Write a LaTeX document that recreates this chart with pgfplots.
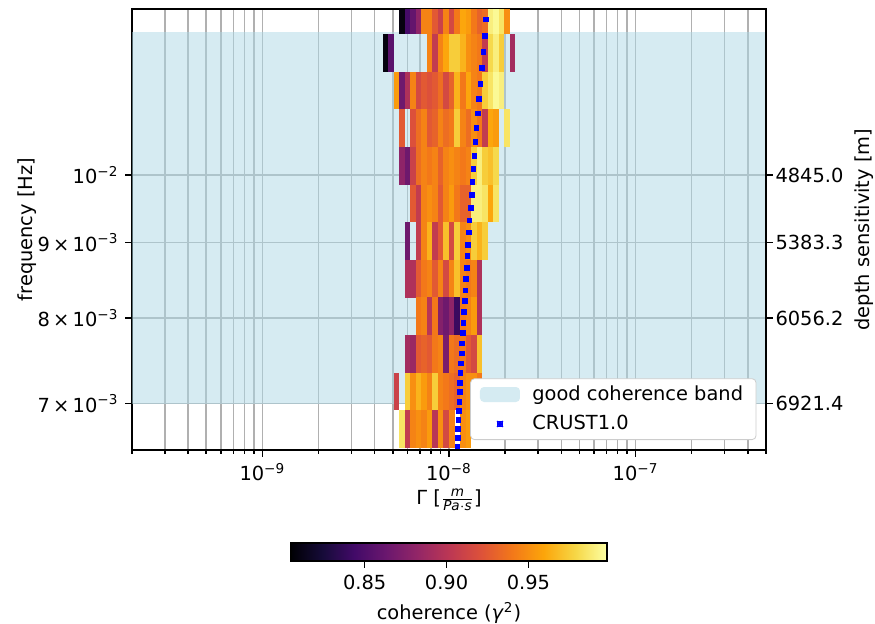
\documentclass[border=0pt]{standalone}
\usepackage{amsmath}
\usepackage{fontspec}
\setmainfont{DejaVu Sans}
\usepackage{pgfplots}
\pgfplotsset{compat=1.18}
\definecolor{cohblue}{RGB}{173,216,230}
\pgfdeclareplotmark{cell}{\pgfpathrectangle{\pgfqpoint{-1.39pt}{-9.43pt}}{\pgfqpoint{2.78pt}{18.86pt}}\pgfusepathqfill}
\pgfplotsset{
  colormap={inferno}{rgb255=(0,0,4) rgb255=(22,11,57) rgb255=(66,10,104) rgb255=(106,23,110) rgb255=(147,38,103) rgb255=(188,55,84) rgb255=(221,81,58) rgb255=(243,120,25) rgb255=(252,165,10) rgb255=(246,215,70) rgb255=(252,255,164)}
}
\pgfplotstableread{
x y c
5.6145e-9 1.28333e-2 0.809
6.0094e-9 1.28333e-2 0.845
6.4320e-9 1.28333e-2 0.860
6.8845e-9 1.28333e-2 0.880
7.3687e-9 1.28333e-2 0.945
7.8870e-9 1.28333e-2 0.945
8.4417e-9 1.28333e-2 0.925
9.0355e-9 1.28333e-2 0.910
9.6710e-9 1.28333e-2 0.945
1.0351e-8 1.28333e-2 0.915
1.1079e-8 1.28333e-2 0.940
1.1858e-8 1.28333e-2 0.960
1.2693e-8 1.28333e-2 0.955
1.3585e-8 1.28333e-2 0.940
1.4541e-8 1.28333e-2 0.930
1.5564e-8 1.28333e-2 0.935
1.6658e-8 1.28333e-2 0.990
1.7830e-8 1.28333e-2 0.995
1.9084e-8 1.28333e-2 0.985
2.0426e-8 1.28333e-2 0.950
4.5788e-9 1.21012e-2 0.809
4.9009e-9 1.21012e-2 0.855
7.8870e-9 1.21012e-2 0.945
8.4417e-9 1.21012e-2 0.905
9.0355e-9 1.21012e-2 0.945
9.6710e-9 1.21012e-2 0.960
1.0351e-8 1.21012e-2 0.975
1.1079e-8 1.21012e-2 0.975
1.1858e-8 1.21012e-2 0.965
1.2693e-8 1.21012e-2 0.950
1.3585e-8 1.21012e-2 0.945
1.4541e-8 1.21012e-2 0.940
1.5564e-8 1.21012e-2 0.905
1.6658e-8 1.21012e-2 0.980
1.7830e-8 1.21012e-2 0.990
1.9084e-8 1.21012e-2 0.975
2.1863e-8 1.21012e-2 0.890
5.2456e-9 1.14106e-2 0.955
5.6145e-9 1.14106e-2 0.865
6.0094e-9 1.14106e-2 0.895
6.4320e-9 1.14106e-2 0.945
6.8845e-9 1.14106e-2 0.915
7.3687e-9 1.14106e-2 0.925
7.8870e-9 1.14106e-2 0.920
8.4417e-9 1.14106e-2 0.925
9.0355e-9 1.14106e-2 0.935
9.6710e-9 1.14106e-2 0.915
1.0351e-8 1.14106e-2 0.930
1.1079e-8 1.14106e-2 0.965
1.1858e-8 1.14106e-2 0.940
1.2693e-8 1.14106e-2 0.960
1.3585e-8 1.14106e-2 0.945
1.4541e-8 1.14106e-2 0.940
1.5564e-8 1.14106e-2 0.975
1.6658e-8 1.14106e-2 0.985
1.7830e-8 1.14106e-2 0.995
1.9084e-8 1.14106e-2 0.990
5.6145e-9 1.07597e-2 0.925
6.4320e-9 1.07597e-2 0.920
6.8845e-9 1.07597e-2 0.935
7.3687e-9 1.07597e-2 0.945
7.8870e-9 1.07597e-2 0.925
8.4417e-9 1.07597e-2 0.930
9.0355e-9 1.07597e-2 0.945
9.6710e-9 1.07597e-2 0.935
1.0351e-8 1.07597e-2 0.940
1.1079e-8 1.07597e-2 0.975
1.1858e-8 1.07597e-2 0.945
1.2693e-8 1.07597e-2 0.935
1.3585e-8 1.07597e-2 0.950
1.4541e-8 1.07597e-2 0.940
1.5564e-8 1.07597e-2 0.905
1.6658e-8 1.07597e-2 0.960
1.7830e-8 1.07597e-2 0.955
2.0426e-8 1.07597e-2 0.985
5.6145e-9 1.01457e-2 0.880
6.0094e-9 1.01457e-2 0.865
6.4320e-9 1.01457e-2 0.910
6.8845e-9 1.01457e-2 0.935
7.3687e-9 1.01457e-2 0.945
7.8870e-9 1.01457e-2 0.940
8.4417e-9 1.01457e-2 0.945
9.0355e-9 1.01457e-2 0.930
9.6710e-9 1.01457e-2 0.945
1.0351e-8 1.01457e-2 0.950
1.1079e-8 1.01457e-2 0.945
1.1858e-8 1.01457e-2 0.940
1.2693e-8 1.01457e-2 0.945
1.3585e-8 1.01457e-2 0.975
1.4541e-8 1.01457e-2 0.990
1.5564e-8 1.01457e-2 0.975
1.6658e-8 1.01457e-2 0.970
1.7830e-8 1.01457e-2 0.980
6.4320e-9 9.5668e-3 0.925
6.8845e-9 9.5668e-3 0.905
7.3687e-9 9.5668e-3 0.945
7.8870e-9 9.5668e-3 0.950
8.4417e-9 9.5668e-3 0.945
9.0355e-9 9.5668e-3 0.925
9.6710e-9 9.5668e-3 0.945
1.0351e-8 9.5668e-3 0.955
1.1079e-8 9.5668e-3 0.940
1.1858e-8 9.5668e-3 0.930
1.2693e-8 9.5668e-3 0.930
1.3585e-8 9.5668e-3 0.990
1.4541e-8 9.5668e-3 0.990
1.5564e-8 9.5668e-3 0.985
1.6658e-8 9.5668e-3 0.960
1.7830e-8 9.5668e-3 0.985
6.0094e-9 9.0209e-3 0.865
6.8845e-9 9.0209e-3 0.905
7.3687e-9 9.0209e-3 0.945
7.8870e-9 9.0209e-3 0.965
8.4417e-9 9.0209e-3 0.905
9.0355e-9 9.0209e-3 0.925
9.6710e-9 9.0209e-3 0.970
1.0351e-8 9.0209e-3 0.915
1.1079e-8 9.0209e-3 0.975
1.1858e-8 9.0209e-3 0.945
1.2693e-8 9.0209e-3 0.950
1.3585e-8 9.0209e-3 0.975
1.4541e-8 9.0209e-3 0.965
1.5564e-8 9.0209e-3 0.975
6.0094e-9 8.5063e-3 0.895
6.4320e-9 8.5063e-3 0.895
6.8845e-9 8.5063e-3 0.925
7.3687e-9 8.5063e-3 0.940
7.8870e-9 8.5063e-3 0.945
8.4417e-9 8.5063e-3 0.925
9.0355e-9 8.5063e-3 0.945
9.6710e-9 8.5063e-3 0.915
1.0351e-8 8.5063e-3 0.945
1.1079e-8 8.5063e-3 0.970
1.1858e-8 8.5063e-3 0.945
1.2693e-8 8.5063e-3 0.940
1.3585e-8 8.5063e-3 0.945
1.4541e-8 8.5063e-3 0.895
6.8845e-9 8.0208e-3 0.940
7.3687e-9 8.0208e-3 0.945
7.8870e-9 8.0208e-3 0.900
8.4417e-9 8.0208e-3 0.940
9.0355e-9 8.0208e-3 0.875
9.6710e-9 8.0208e-3 0.865
1.0351e-8 8.0208e-3 0.880
1.1079e-8 8.0208e-3 0.840
1.1858e-8 8.0208e-3 0.940
1.2693e-8 8.0208e-3 0.945
1.3585e-8 8.0208e-3 0.955
1.4541e-8 8.0208e-3 0.895
6.0094e-9 7.5633e-3 0.890
6.4320e-9 7.5633e-3 0.885
6.8845e-9 7.5633e-3 0.925
7.3687e-9 7.5633e-3 0.930
7.8870e-9 7.5633e-3 0.925
8.4417e-9 7.5633e-3 0.940
9.0355e-9 7.5633e-3 0.945
9.6710e-9 7.5633e-3 0.870
1.0351e-8 7.5633e-3 0.940
1.1079e-8 7.5633e-3 0.935
1.1858e-8 7.5633e-3 0.940
1.2693e-8 7.5633e-3 0.925
1.3585e-8 7.5633e-3 0.915
1.4541e-8 7.5633e-3 0.970
5.2456e-9 7.1317e-3 0.910
6.0094e-9 7.1317e-3 0.975
6.4320e-9 7.1317e-3 0.950
6.8845e-9 7.1317e-3 0.965
7.3687e-9 7.1317e-3 0.955
7.8870e-9 7.1317e-3 0.945
8.4417e-9 7.1317e-3 0.975
9.0355e-9 7.1317e-3 0.945
9.6710e-9 7.1317e-3 0.940
1.0351e-8 7.1317e-3 0.935
1.1079e-8 7.1317e-3 0.930
1.1858e-8 7.1317e-3 0.945
1.2693e-8 7.1317e-3 0.950
1.3585e-8 7.1317e-3 0.950
1.4541e-8 7.1317e-3 0.940
5.6145e-9 6.7248e-3 0.985
6.0094e-9 6.7248e-3 0.905
6.4320e-9 6.7248e-3 0.945
6.8845e-9 6.7248e-3 0.950
7.3687e-9 6.7248e-3 0.945
7.8870e-9 6.7248e-3 0.955
8.4417e-9 6.7248e-3 0.900
9.0355e-9 6.7248e-3 0.950
9.6710e-9 6.7248e-3 0.915
1.0351e-8 6.7248e-3 0.945
1.1858e-8 6.7248e-3 0.950
1.2693e-8 6.7248e-3 0.955
}\heatmap
\pgfplotstableread{
x f
1.606e-8 0.013095
1.581e-8 0.012750
1.554e-8 0.012423
1.529e-8 0.012113
1.497e-8 0.011817
1.474e-8 0.011536
1.450e-8 0.011267
1.426e-8 0.011011
1.403e-8 0.010767
1.386e-8 0.010533
1.369e-8 0.010309
1.352e-8 0.010094
1.336e-8 0.009888
1.324e-8 0.009690
1.308e-8 0.009500
1.287e-8 0.009317
1.276e-8 0.009142
1.267e-8 0.008972
1.256e-8 0.008809
1.245e-8 0.008652
1.236e-8 0.008500
1.225e-8 0.008353
1.215e-8 0.008212
1.206e-8 0.008075
1.195e-8 0.007943
1.185e-8 0.007815
1.176e-8 0.007690
1.171e-8 0.007570
1.162e-8 0.007454
1.152e-8 0.007341
1.148e-8 0.007231
1.142e-8 0.007125
1.138e-8 0.007022
1.134e-8 0.006921
1.124e-8 0.006824
1.120e-8 0.006729
1.115e-8 0.006637
1.110e-8 0.006547
}\crust
\begin{document}
\fontsize{9.7pt}{11.6pt}\selectfont
\begin{tikzpicture}
\path[use as bounding box] (-66pt,-86.5pt) rectangle (371.5pt,225pt);
\begin{axis}[
  at={(0,0)}, anchor=south west,
  scale only axis, width=317pt, height=220.5pt,
  xmode=log, ymode=log,
  xmin=2e-10, xmax=5e-7, ymin=6.5096e-3, ymax=1.29581e-2,
  xtick={1e-9,1e-8,1e-7},
  xticklabels={10\textsuperscript{−9},10\textsuperscript{−8},10\textsuperscript{−7}},
  minor xtick={2e-10,3e-10,4e-10,5e-10,6e-10,7e-10,8e-10,9e-10,2e-9,3e-9,4e-9,5e-9,6e-9,7e-9,8e-9,9e-9,2e-8,3e-8,4e-8,5e-8,6e-8,7e-8,8e-8,9e-8,2e-7,3e-7,4e-7,5e-7},
  ytick={0.007,0.008,0.009,0.01},
  yticklabels={7\,×\,10\textsuperscript{−3},8\,×\,10\textsuperscript{−3},9\,×\,10\textsuperscript{−3},10\textsuperscript{−2}},
  xtick pos=left, ytick pos=left,
  tick align=outside,
  major tick length=3.35pt, minor tick length=1.9pt,
  every tick/.style={black, line width=0.75pt},
  axis line style={line width=0.75pt},
  grid=both,
  major grid style={line width=0.75pt, black!31},
  minor grid style={line width=0.75pt, black!31},
  xlabel={Γ [$\frac{\text{\itshape m}}{\text{\itshape Pa}\cdot\text{\itshape s}}$]},
  xlabel shift=-3pt,
  ylabel={frequency [Hz]},
  ylabel shift=-6pt,
  clip marker paths=true,
  colormap name=inferno,
  point meta min=0.805, point meta max=0.998,
  colorbar horizontal,
  colorbar style={
    at={(parent axis.south)}, anchor=north, yshift=-38pt,
    scale only axis, width=157.9pt, height=9pt,
    xtick={0.85,0.9,0.95}, xticklabels={0.85,0.90,0.95},
    xlabel={coherence (\textit{γ}\textsuperscript{2})},
    tick align=outside, major tick length=3.35pt,
    xtick pos=left,
    every tick/.style={black, line width=0.75pt},
    axis line style={line width=0.75pt},
  },
  legend cell align=left,
  legend style={at={(0.985,0.0227)}, anchor=south east, draw=black!20,
    rounded corners=2pt, fill=white, inner xsep=4.5pt, inner ysep=1.5pt,
    row sep=2pt, /tikz/every odd column/.append style={column sep=4pt}},
]
\addplot[draw=none, fill=cohblue, fill opacity=0.5,
  legend image code/.code={\fill[cohblue, fill opacity=0.5] (0pt,-3.75pt) rectangle (20pt,3.75pt);}]
  coordinates {(2e-10,0.007) (5e-7,0.007) (5e-7,0.0125) (2e-10,0.0125)} -- cycle;
\addlegendentry{good coherence band}
\addplot[forget plot, scatter, only marks, mark=cell, point meta=explicit]
  table[x=x, y=y, meta=c] {\heatmap};
\addplot[only marks, mark=square*, mark size=1.2pt, color=blue,
  legend image code/.code={\path (0pt,0pt) (20pt,0pt); \fill[blue] (8.8pt,-1.2pt) rectangle (11.2pt,1.2pt);}]
  table[x=x, y=f] {\crust};
\addlegendentry{CRUST1.0}
\end{axis}
\begin{axis}[
  at={(0,0)}, anchor=south west,
  scale only axis, width=317pt, height=220.5pt,
  ymode=log, ymin=6.5096e-3, ymax=1.29581e-2, xmin=0, xmax=1,
  hide x axis, axis y line*=right,
  ytick={0.007,0.008,0.009,0.01},
  yticklabels={6921.4,6056.2,5383.3,4845.0},
  yticklabel style={xshift=-2pt},
  tick align=outside, major tick length=3.35pt,
  every tick/.style={black, line width=0.75pt},
  axis line style={line width=0.75pt},
  ylabel={depth sensitivity [m]},
  ylabel shift=-1pt,
]
\addplot[draw=none, forget plot] coordinates {(0.5,0.008)};
\end{axis}
\end{tikzpicture}
\end{document}
